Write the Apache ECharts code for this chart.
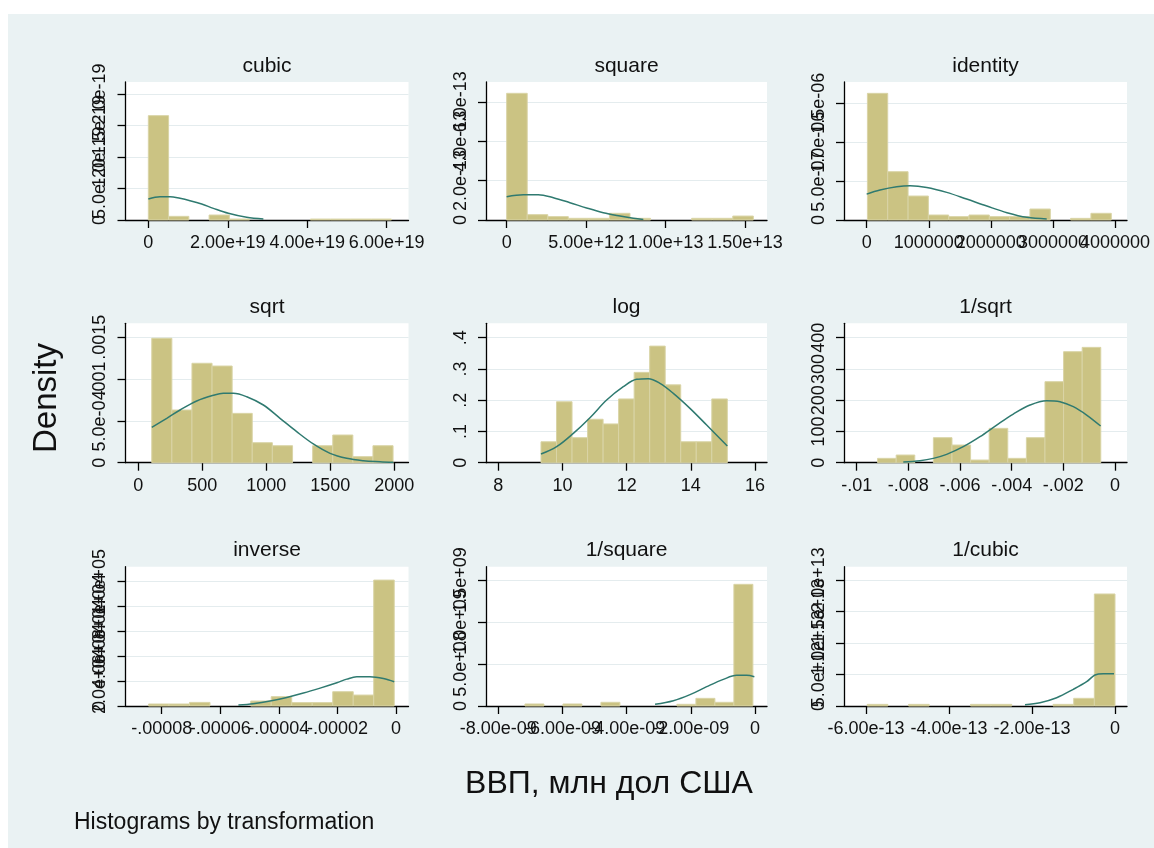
<!DOCTYPE html>
<html>
<head>
<meta charset="utf-8">
<script src="https://cdn.jsdelivr.net/npm/echarts@6/dist/echarts.min.js"></script>
<style>
html,body{margin:0;padding:0;background:#ffffff;}
#wrap{position:relative;width:1154px;height:848px;overflow:hidden;}
#bg{position:absolute;left:8px;top:14px;right:0;bottom:0;background:#eaf2f3;}
#c{position:absolute;left:0;top:0;width:1154px;height:848px;}
</style>
</head>
<body>
<div id="wrap"><div id="bg"></div><div id="c"></div></div>
<script>
// ================= DATA =================
const panelTitles = ['cubic', 'square', 'identity', 'sqrt', 'log', '1/sqrt', 'inverse', '1/square', '1/cubic'];
const xAxisTitle = 'ВВП, млн дол США';
const yAxisTitle = 'Density';
const noteText = 'Histograms by transformation';

// cubic : x in units of 1e19, density in units of 1e-20
const cubicEdges   = [0, 0.51, 1.02, 1.53, 2.04, 2.55, 3.06, 3.57, 4.08, 4.59, 5.10, 5.61, 6.12];
const cubicDensity = [16.56, 0.58, 0, 0.79, 0.15, 0, 0, 0, 0.15, 0.15, 0.15, 0.15];
const cubicCurveX  = [0, 0.294, 0.546, 0.797, 1.049, 1.343, 1.637, 2.014, 2.476, 2.896];
const cubicCurveY  = [3.33, 3.70, 3.70, 3.44, 3.07, 2.54, 1.85, 1.06, 0.42, 0.16];
const cubicXTicks  = [0, 2, 4, 6];
const cubicXLabels = ['0', '2.00e+19', '4.00e+19', '6.00e+19'];
const cubicYTicks  = [0, 5, 10, 15, 20];
const cubicYLabels = ['0', '5.0e-20', '1.0e-19', '1.5e-19', '2.0e-19'];

// square : x in units of 1e12, density in units of 1e-13
const squareEdges   = [0, 1.293, 2.587, 3.88, 5.173, 6.467, 7.76, 9.053, 10.347, 11.64, 12.933, 14.227, 15.52];
const squareDensity = [6.43, 0.27, 0.17, 0.085, 0.085, 0.34, 0.085, 0, 0, 0.085, 0.085, 0.2];
const squareCurveX  = [0, 1.05, 1.99, 2.94, 3.98, 5.03, 6.08, 7.13, 7.97, 8.6];
const squareCurveY  = [1.18, 1.28, 1.28, 1.13, 0.88, 0.61, 0.37, 0.2, 0.085, 0.03];
const squareXTicks  = [0, 5, 10, 15];
const squareXLabels = ['0', '5.00e+12', '1.00e+13', '1.50e+13'];
const squareYTicks  = [0, 2, 4, 6];
const squareYLabels = ['0', '2.0e-13', '4.0e-13', '6.0e-13'];

// identity : x in units of 1e6, density in units of 1e-7
const identityEdges   = [0.012, 0.339, 0.667, 0.994, 1.321, 1.648, 1.976, 2.303, 2.630, 2.958, 3.285, 3.612, 3.94];
const identityDensity = [16.28, 6.21, 3.08, 0.64, 0.43, 0.64, 0.43, 0.43, 1.41, 0, 0.21, 0.86];
const identityCurveX  = [0, 0.215, 0.484, 0.70, 0.968, 1.29, 1.61, 1.935, 2.26, 2.58, 2.9];
const identityCurveY  = [3.33, 3.85, 4.27, 4.40, 4.19, 3.55, 2.69, 1.79, 0.94, 0.34, 0.13];
const identityXTicks  = [0, 1, 2, 3, 4];
const identityXLabels = ['0', '1000000', '2000000', '3000000', '4000000'];
const identityYTicks  = [0, 5, 10, 15];
const identityYLabels = ['0', '5.0e-07', '1.0e-06', '1.5e-06'];

// sqrt : x as is, density in units of 1e-4
const sqrtEdges   = [105, 262, 419, 576, 733, 890, 1047, 1205, 1362, 1519, 1676, 1833, 1990];
const sqrtDensity = [14.88, 6.3, 11.89, 11.56, 5.9, 2.39, 2.03, 0, 2.03, 3.31, 0.72, 2.03];
const sqrtCurveX  = [105, 222, 326, 456, 586, 664, 742, 847, 977, 1107, 1237, 1367, 1498, 1628, 1758, 1888, 1992];
const sqrtCurveY  = [4.23, 5.31, 6.30, 7.38, 8.06, 8.30, 8.30, 7.89, 6.90, 5.31, 3.71, 2.24, 1.12, 0.52, 0.24, 0.12, 0.05];
const sqrtXTicks  = [0, 500, 1000, 1500, 2000];
const sqrtXLabels = ['0', '500', '1000', '1500', '2000'];
const sqrtYTicks  = [0, 5, 10, 15];
const sqrtYLabels = ['0', '5.0e-04', '.001', '.0015'];

// log
const logEdges   = [9.33, 9.814, 10.298, 10.782, 11.266, 11.75, 12.234, 12.718, 13.202, 13.686, 14.17, 14.654, 15.138];
const logDensity = [0.067, 0.195, 0.080, 0.139, 0.124, 0.204, 0.289, 0.373, 0.249, 0.067, 0.067, 0.204];
const logCurveX  = [9.33, 9.818, 10.338, 10.857, 11.377, 11.896, 12.312, 12.675, 13.039, 13.455, 13.974, 14.494, 15.138];
const logCurveY  = [0.0277, 0.0512, 0.0939, 0.1440, 0.2005, 0.2432, 0.2667, 0.2688, 0.2539, 0.2219, 0.1739, 0.1205, 0.0533];
const logXTicks  = [8, 10, 12, 14, 16];
const logXLabels = ['8', '10', '12', '14', '16'];
const logYTicks  = [0, 0.1, 0.2, 0.3, 0.4];
const logYLabels = ['0', '.1', '.2', '.3', '.4'];

// 1/sqrt : x in units of 1e-3
const rsqrtEdges   = [-9.19, -8.47, -7.75, -7.03, -6.31, -5.59, -4.87, -4.15, -3.43, -2.71, -1.99, -1.27, -0.55];
const rsqrtDensity = [13.9, 24.5, 0, 80, 56.5, 8.5, 109.9, 13.9, 80, 259.2, 355.2, 369];
const rsqrtCurveX  = [-8.195, -7.549, -7.033, -6.517, -5.872, -5.226, -4.58, -3.936, -3.291, -2.645, -2.129, -1.613, -1.097, -0.555];
const rsqrtCurveY  = [2.1, 6.4, 13.9, 26.7, 51.2, 83.2, 120.5, 155.7, 184.5, 198.4, 195.2, 179.2, 152.5, 117.3];
const rsqrtXTicks  = [-10, -8, -6, -4, -2, 0];
const rsqrtXLabels = ['-.01', '-.008', '-.006', '-.004', '-.002', '0'];
const rsqrtYTicks  = [0, 100, 200, 300, 400];
const rsqrtYLabels = ['0', '100', '200', '300', '400'];

// inverse : x in units of 1e-6, density in units of 1e3
const inverseEdges   = [-84.5, -77.5, -70.5, -63.5, -56.6, -49.6, -42.6, -35.6, -28.6, -21.6, -14.6, -7.6, -0.6];
const inverseDensity = [1.6, 1.6, 2.9, 0, 0, 4.0, 7.5, 2.7, 2.7, 11.5, 8.8, 101.3];
const inverseCurveX  = [-53.8, -48.7, -43.0, -37.3, -31.6, -25.9, -20.2, -16.8, -13.4, -8.9, -4.3, -0.6];
const inverseCurveY  = [0.8, 1.9, 4.0, 6.9, 10.4, 14.4, 18.7, 21.6, 23.5, 23.5, 22.1, 19.5];
const inverseXTicks  = [-80, -60, -40, -20, 0];
const inverseXLabels = ['-.00008', '-.00006', '-.00004', '-.00002', '0'];
const inverseYTicks  = [0, 20, 40, 60, 80, 100];
const inverseYLabels = ['0', '2.0e+04', '4.0e+04', '6.0e+04', '8.0e+04', '1.0e+05'];

// 1/square : x in units of 1e-9, density in units of 1e8
const rsquareEdges   = [-7.17, -6.578, -5.986, -5.394, -4.802, -4.21, -3.618, -3.026, -2.434, -1.842, -1.25, -0.658, -0.066];
const rsquareDensity = [0.24, 0, 0.24, 0, 0.44, 0, 0, 0, 0.2, 0.91, 0.44, 14.48];
const rsquareCurveX  = [-3.115, -2.544, -2.025, -1.505, -0.986, -0.571, -0.259, -0.02];
const rsquareCurveY  = [0.2, 0.63, 1.35, 2.3, 3.17, 3.65, 3.65, 3.49];
const rsquareXTicks  = [-8, -6, -4, -2, 0];
const rsquareXLabels = ['-8.00e-09', '-6.00e-09', '-4.00e-09', '-2.00e-09', '0'];
const rsquareYTicks  = [0, 5, 10, 15];
const rsquareYLabels = ['0', '5.0e+08', '1.0e+09', '1.5e+09'];

// 1/cubic : x in units of 1e-13, density in units of 1e12
const rcubicEdges   = [-5.97, -5.4725, -4.975, -4.4775, -3.98, -3.4825, -2.985, -2.4875, -1.99, -1.4925, -0.995, -0.4975, 0];
const rcubicDensity = [0.26, 0, 0.26, 0, 0, 0.26, 0.26, 0, 0, 0.26, 1.22, 17.78];
const rcubicCurveX  = [-2.169, -1.807, -1.406, -1.004, -0.683, -0.482, -0.281, -0.024];
const rcubicCurveY  = [0.21, 0.53, 1.32, 2.65, 3.86, 4.92, 5.13, 5.13];
const rcubicXTicks  = [-6, -4, -2, 0];
const rcubicXLabels = ['-6.00e-13', '-4.00e-13', '-2.00e-13', '0'];
const rcubicYTicks  = [0, 5, 10, 15, 20];
const rcubicYLabels = ['0', '5.0e+12', '1.0e+13', '1.5e+13', '2.0e+13'];

// ================= LAYOUT / STYLE =================
const cols = [{left: 125.5, width: 283}, {left: 486, width: 281}, {left: 844, width: 283}];
const rows = [{top: 82, height: 138}, {top: 323.3, height: 139.4}, {top: 566.7, height: 139.3}];
const xRange = [[-0.575, 6.55], [-1.3, 16.38], [-0.365, 4.193],
                [-100.2, 2110.7], [7.616, 16.375], [-10.49, 0.465],
                [-92.35, 4.27], [-8.384, 0.374], [-6.53, 0.289]];
const yMax = [21.9, 7.005, 17.74, 16.67, 0.446, 446, 112.07, 16.58, 22.11];
const barFill = '#cbc383';
const barEdge = '#d9d4a6';
const curveColor = '#2f7a70';
const gridColor = '#e4ecee';
const textColor = '#111111';
const font = 'Liberation Sans, Arial, sans-serif';
const tickFont = '18px ' + font;
const xLabelGap = 14;
const yLabelGap = 16;

const panels = [
  [cubicEdges, cubicDensity, cubicCurveX, cubicCurveY, cubicXTicks, cubicXLabels, cubicYTicks, cubicYLabels],
  [squareEdges, squareDensity, squareCurveX, squareCurveY, squareXTicks, squareXLabels, squareYTicks, squareYLabels],
  [identityEdges, identityDensity, identityCurveX, identityCurveY, identityXTicks, identityXLabels, identityYTicks, identityYLabels],
  [sqrtEdges, sqrtDensity, sqrtCurveX, sqrtCurveY, sqrtXTicks, sqrtXLabels, sqrtYTicks, sqrtYLabels],
  [logEdges, logDensity, logCurveX, logCurveY, logXTicks, logXLabels, logYTicks, logYLabels],
  [rsqrtEdges, rsqrtDensity, rsqrtCurveX, rsqrtCurveY, rsqrtXTicks, rsqrtXLabels, rsqrtYTicks, rsqrtYLabels],
  [inverseEdges, inverseDensity, inverseCurveX, inverseCurveY, inverseXTicks, inverseXLabels, inverseYTicks, inverseYLabels],
  [rsquareEdges, rsquareDensity, rsquareCurveX, rsquareCurveY, rsquareXTicks, rsquareXLabels, rsquareYTicks, rsquareYLabels],
  [rcubicEdges, rcubicDensity, rcubicCurveX, rcubicCurveY, rcubicXTicks, rcubicXLabels, rcubicYTicks, rcubicYLabels]
];

const grids = [], xAxes = [], yAxes = [], series = [], graphics = [];

panels.forEach(function (p, i) {
  const [edges, dens, cx, cy, xt, xl, yt, yl] = p;
  const col = cols[i % 3], row = rows[Math.floor(i / 3)];
  const xMin = xRange[i][0];
  grids.push({left: col.left, top: row.top, width: col.width, height: row.height,
              show: true, backgroundColor: '#ffffff', borderWidth: 0, containLabel: false});
  xAxes.push({
    type: 'value', gridIndex: i, min: xRange[i][0], max: xRange[i][1],
    axisLine: {show: true, onZero: false, lineStyle: {color: '#000', width: 1.3}},
    axisTick: {show: true, length: 8, customValues: xt, lineStyle: {color: '#000', width: 1.3}},
    axisLabel: {show: false},
    splitLine: {show: false}
  });
  yAxes.push({
    type: 'value', gridIndex: i, min: 0, max: yMax[i], interval: yt[1] - yt[0],
    axisLine: {show: true, onZero: false, lineStyle: {color: '#000', width: 1.3}},
    axisTick: {show: true, length: 8, customValues: yt, lineStyle: {color: '#000', width: 1.3}},
    axisLabel: {show: false},
    splitLine: {show: true, lineStyle: {color: gridColor, width: 1.2}}
  });
  const bars = [];
  for (let k = 0; k < dens.length; k++) {
    if (dens[k] > 0) bars.push([edges[k], edges[k + 1], dens[k]]);
  }
  series.push({
    type: 'custom', xAxisIndex: i, yAxisIndex: i, data: bars, silent: true, z: 2,
    encode: {x: [0, 1], y: 2},
    renderItem: function (params, api) {
      const a = api.coord([api.value(0), 0]);
      const b = api.coord([api.value(1), api.value(2)]);
      return {type: 'rect',
              shape: {x: a[0], y: b[1], width: b[0] - a[0], height: a[1] - b[1]},
              style: {fill: barFill, stroke: barEdge, lineWidth: 1}};
    }
  });
  series.push({
    type: 'line', xAxisIndex: i, yAxisIndex: i, silent: true, z: 3,
    data: cx.map(function (x, k) { return [x, cy[k]]; }),
    smooth: 0.35, symbol: 'none', showSymbol: false,
    lineStyle: {color: curveColor, width: 1.5}
  });
  // x tick labels, placed through the panel's own scales
  series.push({
    type: 'custom', xAxisIndex: i, yAxisIndex: i, silent: true, z: 5, clip: false,
    data: xt.map(function (v, k) { return [v, 0, k]; }),
    encode: {x: 0, y: 1},
    renderItem: function (params, api) {
      const pt = api.coord([api.value(0), 0]);
      return {type: 'text', x: pt[0], y: pt[1] + xLabelGap,
              style: {text: xl[api.value(2)], fill: textColor, font: tickFont,
                      textAlign: 'center', textVerticalAlign: 'top', align: 'center', verticalAlign: 'top'}};
    }
  });
  // y tick labels (rotated, centred on their ticks, overlapping as in the source)
  series.push({
    type: 'custom', xAxisIndex: i, yAxisIndex: i, silent: true, z: 5, clip: false,
    data: yt.map(function (v, k) { return [xMin, v, k]; }),
    encode: {x: 0, y: 1},
    renderItem: function (params, api) {
      const pt = api.coord([api.value(0), api.value(1)]);
      return {type: 'text', x: pt[0] - yLabelGap, y: pt[1], rotation: Math.PI / 2,
              style: {text: yl[api.value(2)], fill: textColor, font: tickFont,
                      textAlign: 'center', textVerticalAlign: 'bottom', align: 'center', verticalAlign: 'bottom'}};
    }
  });
  graphics.push({type: 'text', x: col.left + col.width / 2, y: row.top - 16,
                 style: {text: panelTitles[i], fill: textColor, font: '21px ' + font,
                         textAlign: 'center', textVerticalAlign: 'middle'}});
});

graphics.push({type: 'text', x: 47, y: 398, rotation: Math.PI / 2,
               style: {text: yAxisTitle, fill: textColor, font: '33px ' + font,
                       textAlign: 'center', textVerticalAlign: 'middle'}});
graphics.push({type: 'text', x: 609, y: 784,
               style: {text: xAxisTitle, fill: textColor, font: '32px ' + font,
                       textAlign: 'center', textVerticalAlign: 'middle'}});
graphics.push({type: 'text', x: 74, y: 823,
               style: {text: noteText, fill: textColor, font: '23px ' + font,
                       textAlign: 'left', textVerticalAlign: 'middle'}});

const chart = echarts.init(document.getElementById('c'), null, {renderer: 'canvas'});
chart.setOption({
  animation: false,
  backgroundColor: 'transparent',
  grid: grids, xAxis: xAxes, yAxis: yAxes, series: series,
  graphic: {elements: graphics}
});
</script>
</body>
</html>
